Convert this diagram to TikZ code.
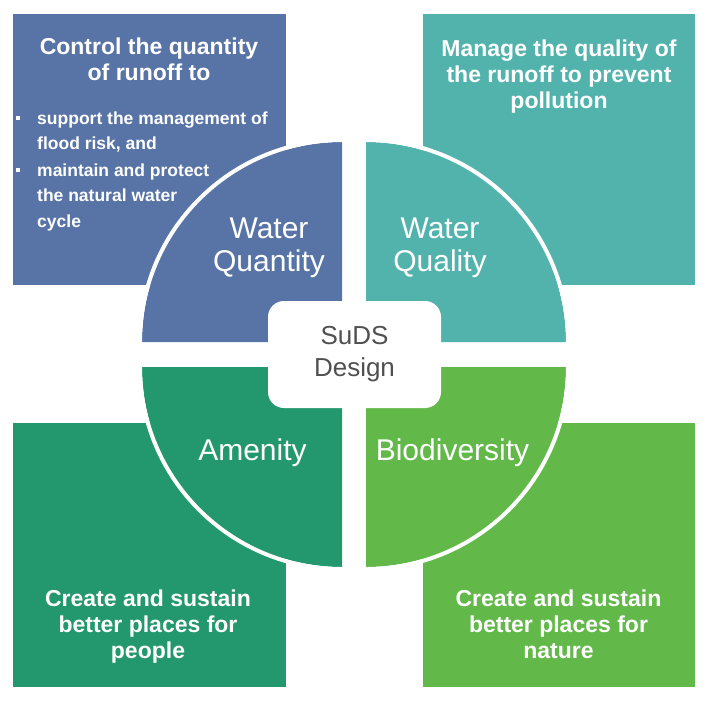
\documentclass[tikz,border=0pt]{standalone}
\usepackage{fontspec}
\setmainfont{Liberation Sans}
\definecolor{qblue}{RGB}{88,116,166}
\definecolor{qteal}{RGB}{82,179,173}
\definecolor{qgreen}{RGB}{35,152,111}
\definecolor{qlime}{RGB}{98,185,73}
\definecolor{sudsgray}{RGB}{80,80,80}

\begin{document}
\begin{tikzpicture}[x=1pt,y=-1pt,
    boxtext/.style={text=white,align=center,anchor=base,inner sep=0pt,
      font=\fontsize{23}{26}\selectfont\bfseries},
    listtext/.style={text=white,align=left,anchor=base west,inner sep=0pt,
      font=\fontsize{17.5}{25.5}\selectfont\bfseries},
    listdot/.style={fill=white,inner sep=0pt,minimum size=4pt},
    quartertext/.style={text=white,align=center,anchor=base,inner sep=0pt,
      font=\fontsize{30}{33}\selectfont},
    rim/.style={white,line width=4pt},
    sudsbox/.style={fill=white,rounded corners=16pt,minimum width=173pt,
      minimum height=107pt,text=sudsgray,align=center,
      font=\fontsize{26}{32}\selectfont}]
    \useasboundingbox (0,0) rectangle (712,702);
    % outer boxes
    \fill[qblue] (13,14) rectangle (286,285);
    \fill[qteal] (423,14) rectangle (695,285);
    \fill[qgreen] (13,423) rectangle (286,687);
    \fill[qlime] (423,423) rectangle (695,687);
    % quarter discs
    \fill[qblue] (342,342) -- (142,342) arc[start angle=180,end angle=270,radius=200] -- cycle;
    \fill[qteal] (366,342) -- (366,142) arc[start angle=270,end angle=360,radius=200] -- cycle;
    \fill[qgreen] (342,367) -- (342,567) arc[start angle=90,end angle=180,radius=200] -- cycle;
    \fill[qlime] (366,367) -- (566,367) arc[start angle=0,end angle=90,radius=200] -- cycle;
    \draw[rim] (140,342) arc[start angle=180,end angle=270,radius=202];
    \draw[rim] (366,140) arc[start angle=270,end angle=360,radius=202];
    \draw[rim] (342,569) arc[start angle=90,end angle=180,radius=202];
    \draw[rim] (568,367) arc[start angle=0,end angle=90,radius=202];
    \node[sudsbox] (suds) at (354.5,354.5) {SuDS\\Design};
    % quarter labels (base = last line)
    \node[quartertext] (quantity) at (269,271) {Water\\Quantity};
    \node[quartertext] (quality) at (440,271) {Water\\Quality};
    \node[quartertext] (amenity) at (252.5,460) {Amenity};
    \node[quartertext] (biodiv) at (452.5,460) {Biodiversity};
    % box texts
    \node[boxtext] (qtyhead) at (149,80) {Control the quantity\\of runoff to};
    \node[listdot] (dot1) at (17.5,118) {};
    \node[listtext] (qtyitem1) at (37,149.5) {support the management of\\flood risk, and};
    \node[listdot] (dot2) at (17.5,170) {};
    \node[listtext] (qtyitem2) at (37,227) {maintain and protect\\the natural water\\cycle};
    \node[boxtext] (qualtext) at (559,108) {Manage the quality of\\the runoff to prevent\\pollution};
    \node[boxtext] (peopletext) at (148,658) {Create and sustain\\better places for\\people};
    \node[boxtext] (naturetext) at (558.5,658) {Create and sustain\\better places for\\nature};
\end{tikzpicture}
\end{document}
